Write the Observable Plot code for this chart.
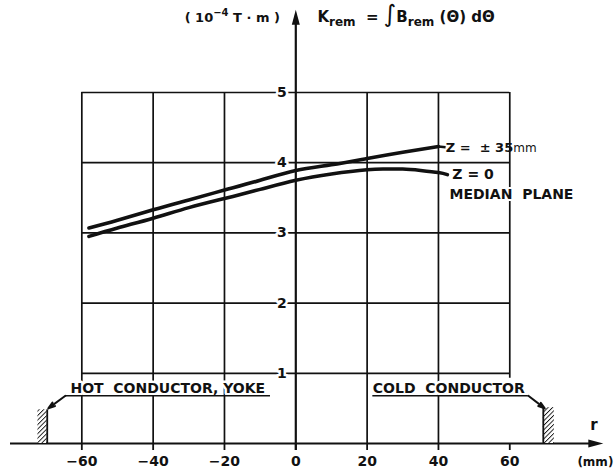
<!DOCTYPE html>
<html><head><meta charset="utf-8">
<script src="https://cdn.jsdelivr.net/npm/d3@7"></script>
<script src="https://cdn.jsdelivr.net/npm/@observablehq/plot@0.6"></script>
<style>body{margin:0;background:#fff} svg{display:block}</style>
</head><body><div id="chart"></div>
<script>
// Curve Z = ±35mm
const r35 = [-58, -50, -40, -30, -20, -10, 0, 10, 20, 30, 40];
const k35 = [3.07, 3.18, 3.33, 3.47, 3.61, 3.75, 3.89, 3.97, 4.06, 4.15, 4.23];
// Curve Z = 0 (median plane)
const r0 = [-58, -50, -40, -30, -20, -10, 0, 10, 20, 25, 30, 35, 40, 42.5];
const k0 = [2.95, 3.07, 3.21, 3.36, 3.49, 3.62, 3.75, 3.84, 3.90, 3.91, 3.91, 3.89, 3.86, 3.83];

const xTicks = [-60, -40, -20, 0, 20, 40, 60];
const xTickLabels = ["−60", "−40", "−20", "0", "20", "40", "60"];
const yTicks = [1, 2, 3, 4, 5];
const yTickLabels = ["1", "2", "3", "4", "5"];
const gridX = [-60, -40, -20, 20, 40, 60];

// conductor blocks (r range, height in K units)
const blockNames = ["hot", "cold"];
const blockR1 = [-72.3, 69.4];
const blockR2 = [-69.7, 72.5];
const blockTop = [0.48, 0.51];

const sideLabels = ["HOT  CONDUCTOR, YOKE", "COLD  CONDUCTOR"];

const FONT = "'DejaVu Sans', sans-serif";
const INK = "#111";

const s35 = r35.map((r, i) => ({r, k: k35[i]}));
const s0 = r0.map((r, i) => ({r, k: k0[i]}));
const blocks = blockNames.map((n, i) => ({n, x1: blockR1[i], x2: blockR2[i], y2: blockTop[i]}));

const arrowUp = {
  draw(ctx) { ctx.moveTo(0, -14); ctx.lineTo(4, 1); ctx.lineTo(-4, 1); ctx.closePath(); }
};

const chart = Plot.plot({
  width: 614, height: 469,
  marginLeft: 10, marginRight: 12, marginTop: 92, marginBottom: 26,
  x: {domain: [-80, 86], axis: null},
  y: {domain: [0, 5], axis: null},
  style: {fontFamily: FONT, background: "white", color: INK},
  marks: [
    // grid
    Plot.ruleY(yTicks, {x1: -60, x2: 60, stroke: INK, strokeWidth: 1.7}),
    Plot.ruleX(gridX, {y1: d => d === 60 ? 0.93 : 0, y2: 5, stroke: INK, strokeWidth: 1.7}),
    // axes
    Plot.ruleY([0], {x1: -80, x2: 82.5, stroke: INK, strokeWidth: 2.2}),
    Plot.ruleX([0], {y1: -0.1, y2: 5.98, stroke: INK, strokeWidth: 2.2}),
    Plot.ruleX(xTicks, {y1: -0.1, y2: 0, stroke: INK, strokeWidth: 1.8}),
    Plot.dot([0], {x: 0, y: 5.98, symbol: arrowUp, fill: INK, stroke: null}),
    Plot.dot([0], {x: 82.3, y: 0, symbol: arrowUp, rotate: 90, fill: INK, stroke: null}),
    // hatched blocks
    Plot.rect(blocks, {x1: "x1", x2: "x2", y1: 0, y2: "y2", fill: "url(#hatch)"}),
    Plot.ruleX(blocks, {x: d => d.n === "hot" ? d.x2 : d.x1, y1: 0, y2: "y2", stroke: INK, strokeWidth: 1.8}),
    // curves
    Plot.line(s35, {x: "r", y: "k", curve: "natural", stroke: INK, strokeWidth: 3.6}),
    Plot.line(s0, {x: "r", y: "k", curve: "natural", stroke: INK, strokeWidth: 3.6}),
    Plot.link([0], {x1: 40, y1: 4.23, x2: 42, y2: 4.22, stroke: INK, strokeWidth: 2.5}),
    // y tick labels
    Plot.text(yTicks, {x: 0, y: d => d, dx: -14, text: (d, i) => yTickLabels[i],
      fill: INK, stroke: "white", strokeWidth: 5, fontSize: 14, fontWeight: "bold"}),
    // x tick labels
    Plot.text(xTicks, {x: d => d, y: 0, dy: 18, text: (d, i) => xTickLabels[i],
      fill: INK, fontSize: 14, fontWeight: "bold"}),
    // side labels
    Plot.text([sideLabels[0]], {x: -63.2, y: 0.78, text: d => d, textAnchor: "start",
      fill: INK, stroke: "white", strokeWidth: 5, fontSize: 14, fontWeight: "bold"}),
    Plot.text([sideLabels[1]], {x: 21.6, y: 0.78, text: d => d, textAnchor: "start",
      fill: INK, stroke: "white", strokeWidth: 5, fontSize: 14, fontWeight: "bold"}),
    Plot.ruleY([0.68], {x1: -64.6, x2: -7.1, stroke: INK, strokeWidth: 1.6}),
    Plot.ruleY([0.68], {x1: 21.6, x2: 65.2, stroke: INK, strokeWidth: 1.6}),
    Plot.arrow([0], {x1: -64.6, y1: 0.68, x2: -69.4, y2: 0.5, stroke: INK, strokeWidth: 2, headLength: 8, headAngle: 35}),
    Plot.arrow([0], {x1: 65.2, y1: 0.68, x2: 69.8, y2: 0.5, stroke: INK, strokeWidth: 2, headLength: 8, headAngle: 35}),
    // curve labels
    Plot.text(["Z = 0"], {x: 43.9, y: 3.83, text: d => d, textAnchor: "start",
      fill: INK, stroke: "white", strokeWidth: 4, fontSize: 14, fontWeight: "bold"}),
    Plot.text(["MEDIAN  PLANE"], {x: 43.1, y: 3.55, text: d => d, textAnchor: "start",
      fill: INK, stroke: "white", strokeWidth: 4, fontSize: 14, fontWeight: "bold"}),
    // axis names
    Plot.text(["r"], {x: 83.6, y: 0.26, text: d => d, fill: INK, fontSize: 15, fontWeight: "bold"}),
    Plot.text(["(mm)"], {x: 84.0, y: -0.27, text: d => d, fill: INK, fontSize: 12, fontWeight: "bold"})
  ]
});

const svg = d3.select(chart);
const sx = chart.scale("x").apply, sy = chart.scale("y").apply;
const defs = svg.insert("defs", ":first-child");
const pat = defs.append("pattern").attr("id", "hatch").attr("patternUnits", "userSpaceOnUse")
  .attr("width", 3.2).attr("height", 3.2).attr("patternTransform", "rotate(45)");
pat.append("rect").attr("width", 3.2).attr("height", 3.2).attr("fill", "white");
pat.append("line").attr("x1", 0).attr("y1", 0).attr("x2", 0).attr("y2", 3.2)
  .attr("stroke", INK).attr("stroke-width", 1.8);

function rich(x, y, parts, anchor, size) {
  const t = svg.append("text").attr("x", sx(x)).attr("y", sy(y))
    .attr("font-family", FONT).attr("fill", INK).attr("text-anchor", anchor || "start")
    .attr("font-weight", "bold").attr("font-size", size || 13);
  for (const p of parts) {
    const s = t.append("tspan").text(p.t);
    if (p.size) s.attr("font-size", p.size);
    if (p.dy) s.attr("dy", p.dy);
    if (p.w) s.attr("font-weight", p.w);
  }
  return t;
}
// top-left unit
rich(-4.3, 6.0, [
  {t: "( 10"}, {t: "−4", size: 10, dy: -6}, {t: " T · m )", dy: 6}
], "end", 13);
// formula
rich(6.2, 6.0, [
  {t: "K"}, {t: "rem", size: 12, dy: 4}, {t: "  = ", dy: -4},
  {t: "∫", size: 24, w: "normal"}, {t: "B"}, {t: "rem", size: 12, dy: 4},
  {t: " (Θ) dΘ", dy: -4}
], "start", 15);
// Z = ±35mm label
rich(42.2, 4.15, [
  {t: "Z =  ± 35"}, {t: "mm", w: "normal", size: 12}
], "start", 13);

document.getElementById("chart").appendChild(chart);
</script>
</body></html>
